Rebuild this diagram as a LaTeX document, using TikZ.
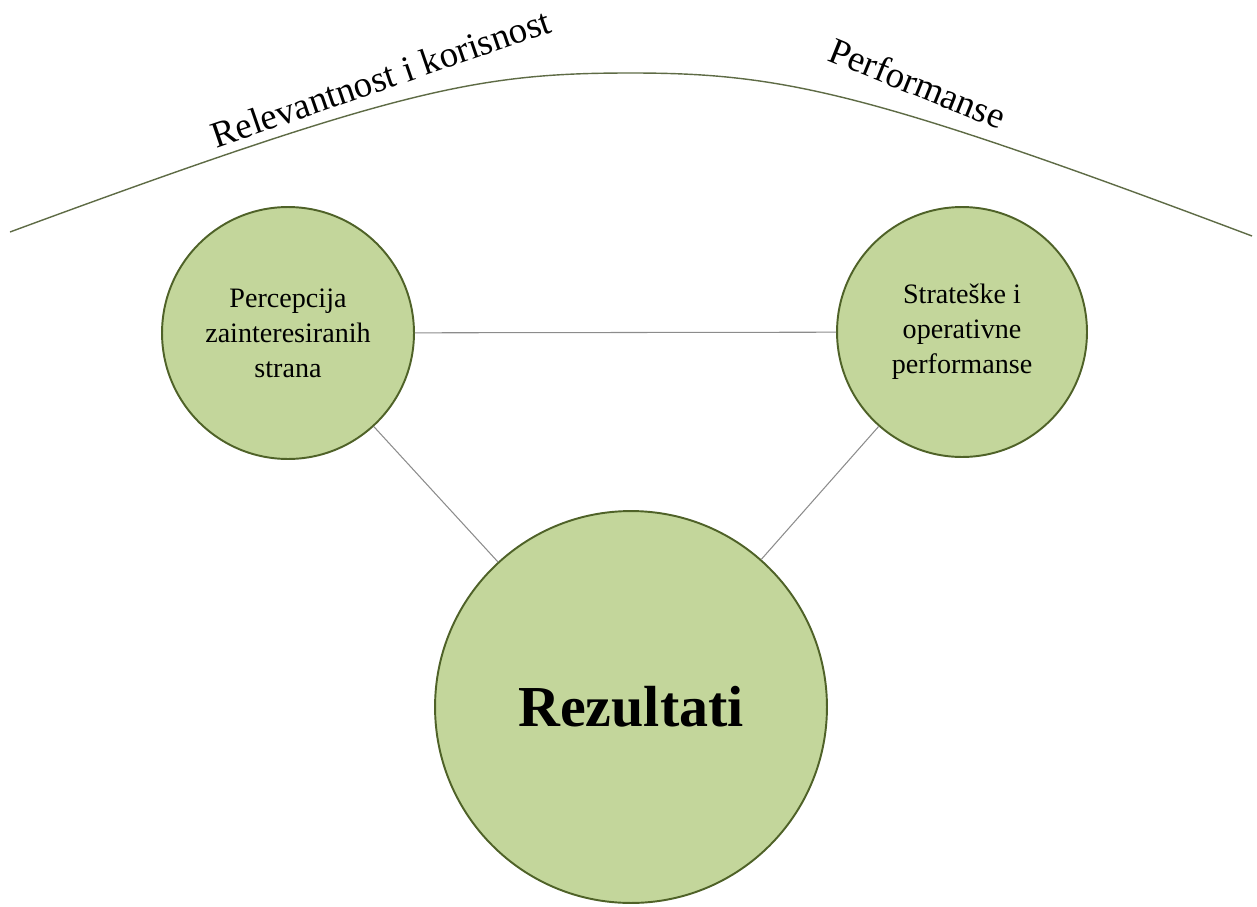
\documentclass[tikz,border=0pt]{standalone}
\usepackage{fontspec}
\setmainfont{Liberation Serif}
\definecolor{leafgreen}{HTML}{C3D69B}
\definecolor{leafedge}{HTML}{4F6228}
\definecolor{linkgray}{HTML}{8C8C8C}
\definecolor{arcline}{HTML}{5E6B45}
\begin{document}
\begin{tikzpicture}[x=0.02cm, y=-0.02cm,
		bubble/.style={circle, draw=leafedge, line width=1.1pt, fill=leafgreen, inner sep=0pt, align=center, font=\fontsize{16}{20}\selectfont},
		link/.style={draw=linkgray, line width=0.6pt},
		arclabel/.style={anchor=base, font=\fontsize{21}{25}\selectfont}]
	\useasboundingbox (0,0) rectangle (1257,906);
	% Upper arc
	\coordinate (arcL) at (10,232);
	\coordinate (arcT) at (631,73);
	\coordinate (arcR) at (1252,236);
	\draw[arcline, line width=0.8pt] (arcL) .. controls (400,88) and (480,73) .. (arcT)
		.. controls (782,73) and (870,92) .. (arcR);
	\node[arclabel, rotate=19] (relev) at (385,90) {Relevantnost i korisnost};
	\node[arclabel, rotate=-22] (perf) at (913,95) {Performanse};
	% Circles
	\node[bubble, minimum size=5.04cm] (stake) at (288,333) {Percepcija\\zainteresiranih\\strana};
	\node[bubble, minimum size=5.0cm] (strat) at (962,332) {Strateške i\\operativne\\performanse};
	\node[bubble, minimum size=7.84cm, font=\fontsize{33}{38}\selectfont\bfseries] (res) at (631,707) {Rezultati};
	% Connectors
	\draw[link] (stake) -- (strat);
	\draw[link] (stake) -- (res);
	\draw[link] (strat) -- (res);
\end{tikzpicture}
\end{document}
